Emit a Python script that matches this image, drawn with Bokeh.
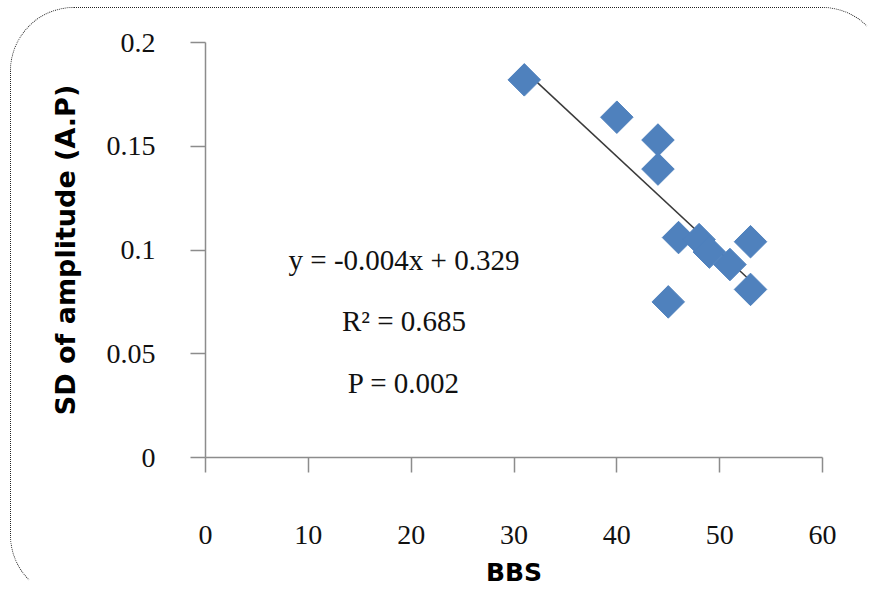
import numpy as np
from bokeh.plotting import figure
from bokeh.models import Range1d, FixedTicker, CustomJSTickFormatter, Label
from bokeh.embed import file_html
from bokeh.resources import INLINE

# ---- data ----
bbs = [31, 40, 44, 44, 46, 48, 49, 51, 53, 53, 45]
sd_amplitude = [0.182, 0.164, 0.153, 0.139, 0.106, 0.105, 0.099, 0.093, 0.104, 0.081, 0.075]
x_ticks = [0, 10, 20, 30, 40, 50, 60]
y_ticks = [0, 0.05, 0.1, 0.15, 0.2]
equation_text = "y = -0.004x + 0.329"
r2_text = "R² = 0.685"
p_text = "P = 0.002"
x_title = "BBS"
y_title = "SD of amplitude (A.P)"

# linear trend line from the data
slope, intercept = np.polyfit(bbs, sd_amplitude, 1)
fit_x = [min(bbs), max(bbs)]
fit_y = [slope * v + intercept for v in fit_x]

p = figure(width=876, height=592, output_backend="svg", toolbar_location=None,
           x_range=Range1d(0, 60), y_range=Range1d(0, 0.2),
           min_border_left=194, min_border_right=65, min_border_top=34, min_border_bottom=143)
p.outline_line_color = None
p.xgrid.grid_line_color = None
p.ygrid.grid_line_color = None
# transparent canvas so the rounded page border stays visible
p.background_fill_color = None
p.border_fill_color = None

# rounded dotted chart-area border (right/bottom edges run off the picture)
p.styles = {
    "margin-left": "10px",
    "margin-top": "7px",
    "border-style": "dotted",
    "border-width": "1px",
    "border-color": "#222222 transparent transparent #222222",
    "border-radius": "64px",
    "background-color": "white",
}

serif = "Liberation Serif"
axis_gray = "#8c8c8c"

for ax in (p.xaxis[0], p.yaxis[0]):
    ax.axis_line_color = axis_gray
    ax.axis_line_width = 1.5
    ax.major_tick_line_color = axis_gray
    ax.major_tick_line_width = 1.5
    ax.major_tick_out = 15
    ax.major_tick_in = 0
    ax.minor_tick_line_color = None
    ax.major_label_text_font = serif
    ax.major_label_text_font_size = "28px"
    ax.major_label_text_color = "#111111"
    ax.axis_label_text_font = "DejaVu Sans"
    ax.axis_label_text_font_style = "bold"
    ax.axis_label_text_color = "#000000"

p.xaxis.axis_label_text_font_size = "25px"
p.yaxis.axis_label_text_font_size = "27px"
p.xaxis.ticker = FixedTicker(ticks=x_ticks)
p.yaxis.ticker = FixedTicker(ticks=y_ticks)
p.yaxis.formatter = CustomJSTickFormatter(code="return tick.toFixed(2).replace(/\\.?0+$/, '');")
p.xaxis.axis_label = x_title
p.yaxis.axis_label = y_title
p.xaxis.major_label_standoff = 53
p.xaxis.axis_label_standoff = 11
p.yaxis.major_label_standoff = 35
p.yaxis.axis_label_standoff = 23

p.line(fit_x, fit_y, line_color="#3a3a3a", line_width=1.5)
p.scatter(bbs, sd_amplitude, marker="square", angle=np.pi / 4, size=23,
          fill_color="#4F81BD", line_color="#4F81BD")

for txt, yy in ((equation_text, 0.095), (r2_text, 0.066), (p_text, 0.036)):
    p.add_layout(Label(x=19.3, y=yy, text=txt, text_align="center", text_baseline="middle",
                       text_font=serif, text_font_size="29px", text_color="#111111"))

open("out.html", "w").write(file_html(p, INLINE))
